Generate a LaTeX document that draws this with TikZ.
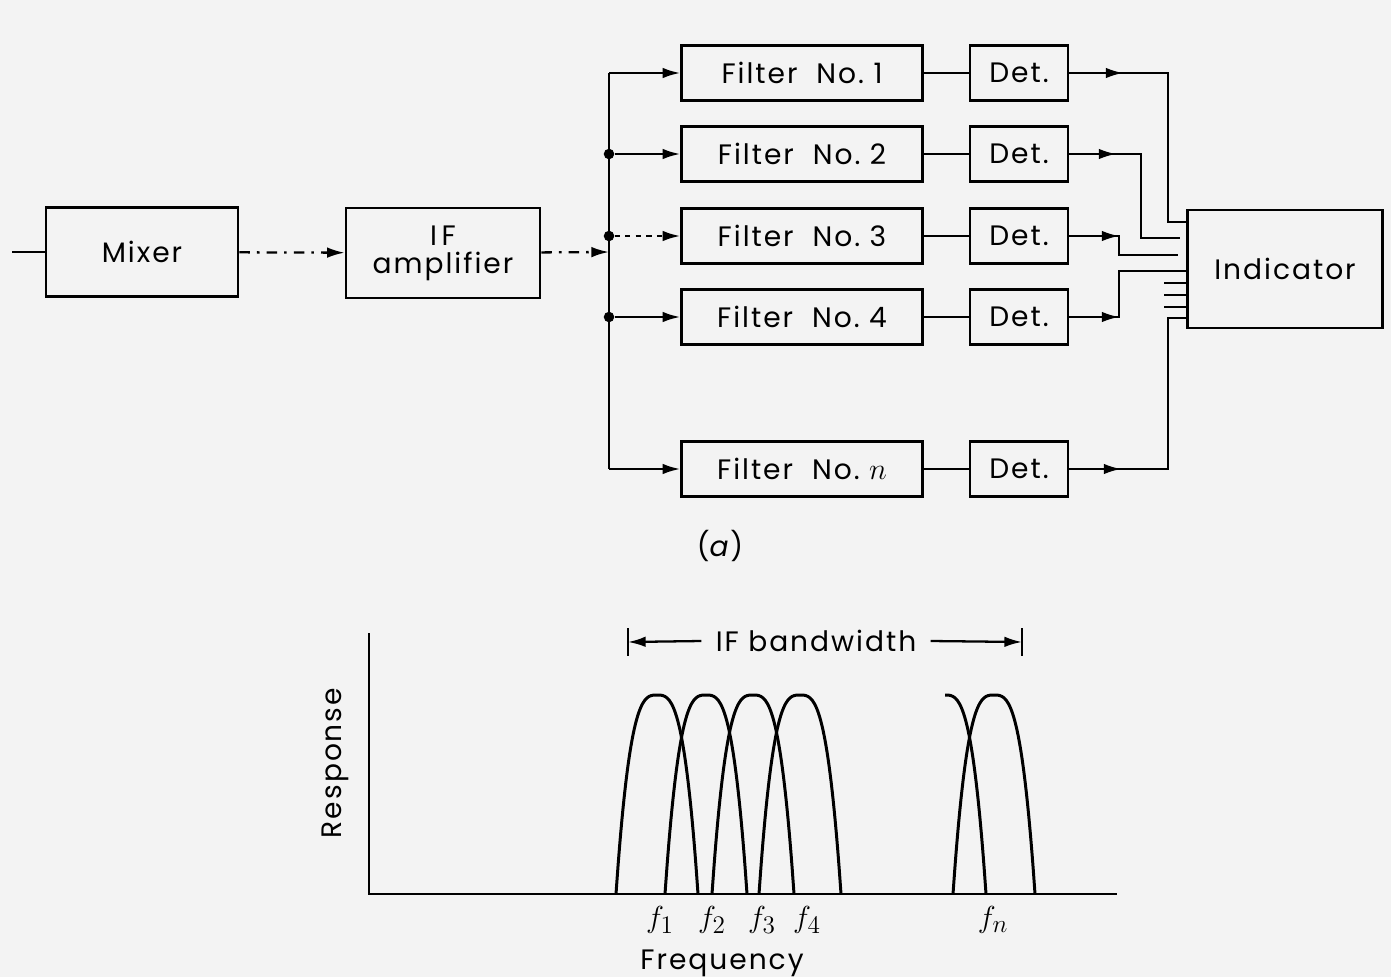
\documentclass[tikz,border=0pt]{standalone}
\usepackage{fontspec}
\setsansfont{Poppins}[LetterSpace=7]
\usetikzlibrary{arrows.meta}
\definecolor{paper}{HTML}{F3F3F3}

\begin{document}
\begin{tikzpicture}[
    x=.02cm, y=-.02cm,
    font=\sffamily\fontsize{16}{18}\selectfont,
    box/.style={draw, line width=1.5pt, inner sep=0pt},
    sig/.style={line width=1.3pt},
    tip/.style={-{Latex[length=10pt,width=6pt]}},
    dashdot/.style={dash pattern=on 6pt off 4pt on 1.5pt off 4pt},
    junc/.style={circle, fill, inner sep=0pt, minimum size=6pt},
    resp/.style={line width=1.7pt},
  ]
  \fill[paper] (0,0) rectangle (1391,977);
  \useasboundingbox (0,0) rectangle (1391,977);

  %% (a) receiver front end and filter bank
  \node[box, minimum width=3.84cm, minimum height=1.78cm] (mixer) at (142,252) {Mixer};
  \node[box, minimum width=3.88cm, minimum height=1.8cm, align=center,
        font=\sffamily\fontsize{16}{16}\selectfont] (ifamp) at (443,253) {I\,F\\amplifier};
  \coordinate (in) at (12,252);
  \draw[sig] (in) -- (mixer.west);
  \draw[sig, dashdot, tip] (mixer) -- (ifamp);

  \coordinate (busin) at (609,252);
  \coordinate (bustop) at (609,73);
  \coordinate (busbot) at (609,469);
  \draw[sig, dashdot, tip] (ifamp) -- (busin);
  \draw[sig] (bustop) -- (busbot);

  \foreach \i/\y/\k in {1/73/1, 2/154/2, 3/236/3, 4/317/4, n/469/{$n$}}{
    \node[box, minimum width=4.82cm, minimum height=1.1cm] (filt\i) at (802,\y) {Filter~~No.\ \k};
    \node[box, minimum width=1.96cm, minimum height=1.1cm] (det\i) at (1019,\y) {Det.};
    \draw[sig] (filt\i) -- (det\i);
  }

  \node[junc] (j2) at (609,154) {};
  \node[junc] (j3) at (609,236) {};
  \node[junc] (j4) at (609,317) {};
  \draw[sig, tip] (bustop) -- (filt1.west);
  \draw[sig, tip] (j2) -- (filt2.west);
  \draw[sig, dashed, tip] (j3) -- (filt3.west);
  \draw[sig, tip] (j4) -- (filt4.west);
  \draw[sig, tip] (busbot) -- (filtn.west);

  \node[box, minimum width=3.9cm, minimum height=2.36cm] (ind) at (1285,269) {Indicator};
  \coordinate (p1) at (1187,222);
  \coordinate (p2) at (1180,238);
  \coordinate (p3) at (1178,255);
  \coordinate (p4) at (1187,271);
  \coordinate (pn) at (1187,318);

  \draw[sig, tip] (det1.east) -- ++(54,0);
  \draw[sig] (det1.east) -- ++(99,0) |- (p1);
  \draw[sig, tip] (det2.east) -- ++(47,0);
  \draw[sig] (det2.east) -- ++(72,0) |- (p2);
  \draw[sig, tip] (det3.east) -- ++(50,0);
  \draw[sig] (det3.east) -- ++(50,0) |- (p3);
  \draw[sig, tip] (det4.east) -- ++(50,0);
  \draw[sig] (det4.east) -- ++(50,0) |- (p4);
  \draw[sig, tip] (detn.east) -- ++(52,0);
  \draw[sig] (detn.east) -- ++(99,0) |- (pn);
  \foreach \s in {283,295,307}
    \draw[sig] (ind.west |- 0,\s) -- ++(-22,0);

  \node (cap) at (720,546) {(\textit{a})};

  %% (b) filter responses
  \coordinate (origin) at (369,894);
  \coordinate (ytop) at (369,633);
  \coordinate (xend) at (1117,894);
  \draw[sig] (ytop) -- (origin) -- (xend);
  \node[rotate=90] (yl) at (335,763) {Response};
  \node (xl) at (722,963) {Frequency};

  \foreach \c in {657,706,753,800,994}
    \draw[resp] plot[domain=-1:1, samples=41, smooth] ({\c+41*\x}, {894-199*(1-abs(\x)^3)});
  \draw[resp] plot[domain=0:1, samples=21, smooth] ({945+41*\x}, {894-199*(1-abs(\x)^3)});

  \foreach \c/\k in {660/1, 712/2, 762/3, 807/4, 993/n}
    \node[font=\fontsize{19}{20}\selectfont] (f\k) at (\c,920) {$f_\k$};

  \node[inner sep=8pt] (bw) at (816,641) {IF bandwidth};
  \coordinate (bwl) at (628,642);
  \coordinate (bwr) at (1022,642);
  \draw[sig] (bwl) ++(0,-14) -- ++(0,28);
  \draw[sig] (bwr) ++(0,-14) -- ++(0,28);
  \draw[sig, tip] (bw.west) -- (bwl);
  \draw[sig, tip] (bw.east) -- (bwr);
\end{tikzpicture}
\end{document}
